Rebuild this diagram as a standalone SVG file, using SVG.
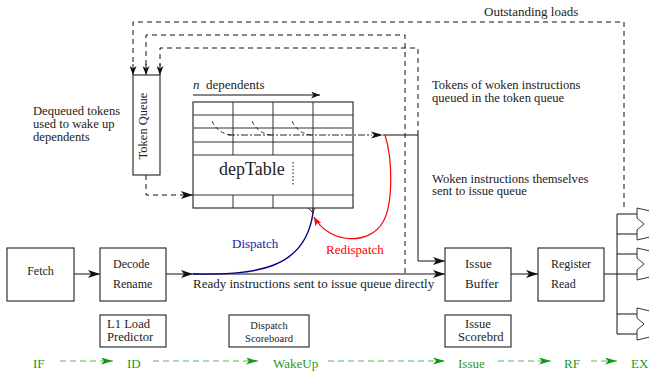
<svg xmlns="http://www.w3.org/2000/svg" width="649" height="375" viewBox="0 0 649 375">
<style>
text{font-family:"Liberation Serif","Times New Roman",serif;fill:#222}
.t13{font-size:13px}
.t12{font-size:12px}
.ml{font-size:12.6px}
.box{fill:#fff;stroke:#333;stroke-width:1.2}
.ln{fill:none;stroke:#111;stroke-width:1}
.dash{fill:none;stroke:#111;stroke-width:1;stroke-dasharray:5,4}
.grid{stroke:#333;stroke-width:1;fill:none}
.gridg{stroke:#777;stroke-width:1.6;fill:none}
.green{fill:none;stroke:#5cb85c;stroke-width:1.2;stroke-dasharray:6,4}
.gtext{fill:#1f9a1f;font-size:13px}
</style>
<defs>
<marker id="ah" markerWidth="13" markerHeight="8" refX="12" refY="4" orient="auto" markerUnits="userSpaceOnUse"><path d="M0,0 L12,4 L0,8 L3,4 z" fill="#111"/></marker>
<marker id="ahs" markerWidth="10" markerHeight="7" refX="9" refY="3.5" orient="auto" markerUnits="userSpaceOnUse"><path d="M0,0 L9,3.5 L0,7 L2.5,3.5 z" fill="#111"/></marker>
<marker id="ahr" markerWidth="10" markerHeight="7" refX="9" refY="3.5" orient="auto" markerUnits="userSpaceOnUse"><path d="M0,0 L9,3.5 L0,7 L2.5,3.5 z" fill="#f00"/></marker>
<marker id="ahg" markerWidth="13" markerHeight="7" refX="12" refY="3.5" orient="auto" markerUnits="userSpaceOnUse"><path d="M0,0 L12,3.5 L0,7 L3,3.5 z" fill="#119911"/></marker>
</defs>

<g id="connectors">
<path class="dash" d="M624,207 L624,22 L133,22 L133,66"/>
<path class="dash" d="M405,273 L405,35 L146,35 L146,66"/>
<path class="dash" d="M418,135 L418,48 L160,48 L160,66"/>
<path class="ln" d="M133,64 L133,75" marker-end="url(#ahs)"/>
<path class="ln" d="M146,64 L146,75" marker-end="url(#ahs)"/>
<path class="ln" d="M160,64 L160,75" marker-end="url(#ahs)"/>
<path class="dash" d="M146,175 L146,195 L193,195" marker-end="url(#ah)"/>
<path class="ln" d="M383,135 L418,135 L418,261 L445,261" marker-end="url(#ah)"/>
<path class="ln" d="M74,274 L100,274" marker-end="url(#ah)"/>
<path class="ln" d="M166,274 L193,274" marker-end="url(#ah)"/>
<path class="ln" d="M193,274 L445,274" marker-end="url(#ah)"/>
<path class="ln" d="M511,274 L538,274" marker-end="url(#ah)"/>
<path class="ln" d="M604,274 L617,274 M617,214 L617,334 M617,214 L637,214 M617,234 L637,234 M617,254 L637,254 M617,274 L637,274 M617,314 L637,314 M617,334 L637,334"/>
<path d="M193,274 C255,275 305,270 313,213" fill="none" stroke="#00008b" stroke-width="1.4"/>
<path d="M385,135 C393,160 393,205 383,222 C370,245 330,245 314,217" fill="none" stroke="#f00" stroke-width="1.2" marker-end="url(#ahr)"/>
<path class="ln" d="M313,213 C310,170 295,135 267,118" marker-end="url(#ahs)"/>
<path class="ln" d="M313,213 C318,195 325,180 325,152" marker-end="url(#ahs)"/>
<path class="ln" d="M313,213 C290,185 245,180 215,201" marker-end="url(#ahs)"/>
<path class="ln" d="M193,95 L320,95" marker-end="url(#ahs)"/>
<path class="green" d="M60,361 L113,361" marker-end="url(#ahg)"/>
<path class="green" d="M153,361 L258,361" marker-end="url(#ahg)"/>
<path class="green" d="M328,361 L445,361" marker-end="url(#ahg)"/>
<path class="green" d="M498,361 L551,361" marker-end="url(#ahg)"/>
<path class="green" d="M591,361 L617,361" marker-end="url(#ahg)"/>
</g>

<g id="tokenQueue">
<rect class="box" x="133" y="75" width="27" height="100"/>
<text font-size="12.5" transform="translate(147,126) rotate(-90)" text-anchor="middle">Token Queue</text>
</g>

<g id="depTable">
<rect x="193" y="102" width="160" height="106" fill="#fff" stroke="#333" stroke-width="1.2"/>
<path class="grid" d="M193,115 H353 M193,155 H353 M193,195 H353"/>
<path class="gridg" d="M193,128 H353 M193,142 H353"/>
<path class="grid" d="M233,102 V155 M273,102 V155 M313,102 V208 M233,195 V208 M273,195 V208"/>
<path d="M293,162 V186" stroke="#111" stroke-width="1" stroke-dasharray="1.5,2" fill="none"/>
<path d="M212,121 Q218,134 232,135 M252,121 Q258,134 272,135 M292,121 Q298,134 312,135" fill="none" stroke="#111" stroke-width="0.9" stroke-dasharray="4,3"/>
<path d="M228,135 L372,135" fill="none" stroke="#111" stroke-width="0.9" stroke-dasharray="7,2,2,2"/>
<path d="M371,131.5 L383,135 L371,138.5 L374,135 z" fill="#111"/>
<text x="219" y="175" font-size="18">depTable</text>
<text x="193" y="89" class="t13" font-style="italic">n</text>
<text x="206" y="89" class="t13">dependents</text>
</g>

<g id="fetch">
<rect class="box" x="7" y="248" width="67" height="53"/>
<text x="40.5" y="275" class="t12" text-anchor="middle">Fetch</text>
</g>
<g id="decode">
<rect class="box" x="100" y="248" width="66" height="53"/>
<text x="113" y="268" class="t12">Decode</text>
<text x="113" y="288" class="t12">Rename</text>
</g>
<g id="l1pred">
<rect class="box" x="100" y="315" width="66" height="32"/>
<text x="107" y="328" class="ml">L1 Load</text>
<text x="107" y="341" class="ml">Predictor</text>
</g>
<g id="dispScore">
<rect class="box" x="229" y="315" width="80" height="32"/>
<text x="269" y="328.5" font-size="10.5" text-anchor="middle">Dispatch</text>
<text x="269" y="341.5" font-size="10.5" text-anchor="middle">Scoreboard</text>
</g>
<g id="issueBuf">
<rect class="box" x="445" y="248" width="66" height="53"/>
<text x="465" y="268" class="t13">Issue</text>
<text x="465" y="288" class="t13">Buffer</text>
</g>
<g id="issueScore">
<rect class="box" x="445" y="315" width="66" height="32"/>
<text x="465" y="328" class="ml">Issue</text>
<text x="458" y="341" class="ml">Scorebrd</text>
</g>
<g id="regRead">
<rect class="box" x="538" y="248" width="66" height="53"/>
<text x="551" y="268" class="t12">Register</text>
<text x="551" y="288" class="t12">Read</text>
</g>
<g id="exUnits">
<path d="M652,211.5 L637,208 L637,218 L644,224 L637,230 L637,240 L652,236.5" fill="#fff" stroke="#333" stroke-width="1"/>
<path d="M652,251.5 L637,248 L637,258 L644,264 L637,270 L637,280 L652,276.5" fill="#fff" stroke="#333" stroke-width="1"/>
<path d="M652,311.5 L637,308 L637,318 L644,324 L637,330 L637,340 L652,336.5" fill="#fff" stroke="#333" stroke-width="1"/>
</g>

<g id="labels">
<text x="484" y="16" class="t13">Outstanding loads</text>
<text x="432" y="89" class="ml">Tokens of woken instructions</text>
<text x="432" y="102" class="ml">queued in the token queue</text>
<text x="432" y="182.5" class="ml">Woken instructions themselves</text>
<text x="432" y="195" class="ml">sent to issue queue</text>
<text x="33" y="115" class="ml">Dequeued tokens</text>
<text x="33" y="128" class="ml">used to wake up</text>
<text x="33" y="141" class="ml">dependents</text>
<text x="232" y="248" class="t13" style="fill:#1a1aa8">Dispatch</text>
<text x="326" y="254" class="t13" style="fill:#f00">Redispatch</text>
<text x="193" y="288" class="t13">Ready instructions sent to issue queue directly</text>
</g>
<g id="stages">
<text x="33" y="368" class="gtext">IF</text>
<text x="127" y="368" class="gtext">ID</text>
<text x="273" y="368" class="gtext">WakeUp</text>
<text x="458" y="368" class="gtext">Issue</text>
<text x="564" y="368" class="gtext">RF</text>
<text x="631" y="368" class="gtext">EX</text>
</g>
</svg>
